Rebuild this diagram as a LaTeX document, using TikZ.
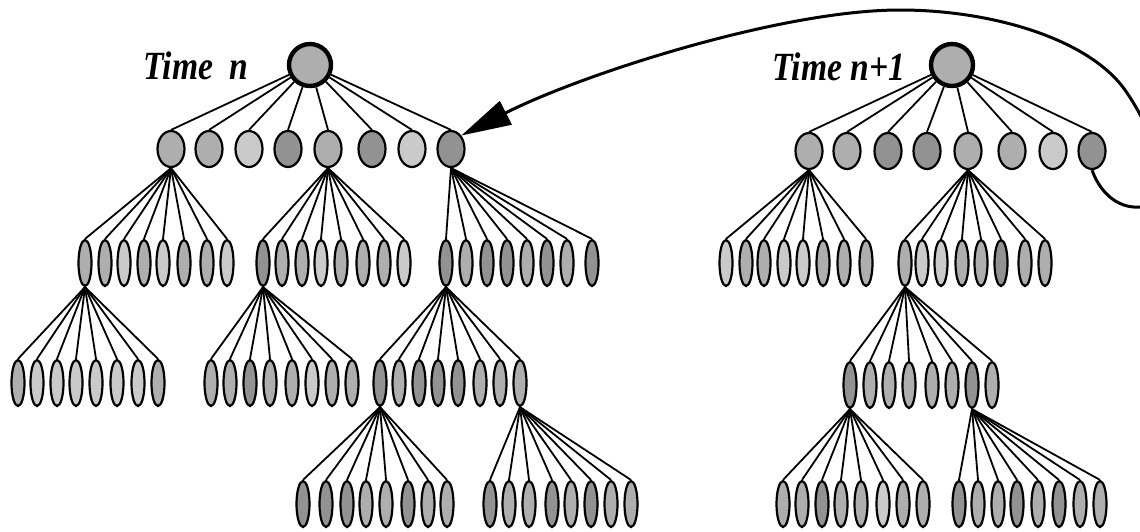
\documentclass[tikz,border=0pt]{standalone}
\usepackage{fontspec}
\usepackage{xcolor}
\usepackage{tikz}
\usetikzlibrary{shapes.geometric, arrows.meta}
\newfontfamily\lblfont[FakeStretch=0.84]{Liberation Serif}
\definecolor{cLight}{HTML}{CACACA}
\definecolor{cMid}{HTML}{AEAEAE}
\definecolor{cDark}{HTML}{929292}
\definecolor{cEdge}{HTML}{000000}

\begin{document}
\begin{tikzpicture}[
  x=0.5pt, y=-0.5pt,
  rootnd/.style={circle, draw=cEdge, line width=2.2pt, fill=cMid, minimum size=21pt, inner sep=0pt},
  topnd/.style={ellipse, draw=cEdge, line width=1.1pt, minimum width=13.5pt, minimum height=18pt, inner sep=0pt},
  leafnd/.style={ellipse, draw=cEdge, line width=1.1pt, minimum width=6.5pt, minimum height=23pt, inner sep=0pt},
  br/.style={line width=0.9pt, draw=cEdge},
  lbl/.style={font=\lblfont\fontsize{20}{24}\selectfont\bfseries\itshape, inner sep=0pt},
  ar/.style={-{Triangle[length=25pt, width=13pt]}, line width=1.5pt, draw=cEdge}
]
\clip (0,0) rectangle (1140,531);

% Time n
\node[lbl, anchor=base west] (lblL) at (143,79) {Time~~n};
\node[rootnd] (lroot) at (310,65) {};
\foreach \x/\c [count=\i] in {171/cMid, 209/cMid, 249/cLight, 288/cDark, 328/cMid, 372/cDark, 412/cLight, 451/cDark}
  \node[topnd, fill=\c] (lt\i) at (\x,149) {};
\foreach \x/\c [count=\i] in {85/cMid, 105/cMid, 124/cLight, 144/cMid, 163/cLight, 184/cMid, 207/cMid, 227/cLight}
  \node[leafnd, fill=\c] (la\i) at (\x,263) {};
\foreach \x/\c [count=\i] in {263/cDark, 282/cMid, 302/cMid, 321/cLight, 341/cMid, 363/cMid, 384/cMid, 404/cLight}
  \node[leafnd, fill=\c] (lb\i) at (\x,263) {};
\foreach \x/\c [count=\i] in {446/cDark, 466/cMid, 487/cDark, 507/cDark, 527/cMid, 547/cDark, 567/cMid, 592/cDark}
  \node[leafnd, fill=\c] (lc\i) at (\x,263) {};
\foreach \x/\c [count=\i] in {18/cMid, 37/cLight, 57/cLight, 76/cLight, 96/cLight, 117/cLight, 138/cLight, 158/cMid}
  \node[leafnd, fill=\c] (laa\i) at (\x,383) {};
\foreach \x/\c [count=\i] in {211/cMid, 230/cMid, 250/cDark, 270/cMid, 292/cMid, 312/cLight, 332/cMid, 352/cMid}
  \node[leafnd, fill=\c] (lbb\i) at (\x,383) {};
\foreach \x/\c [count=\i] in {380/cDark, 399/cMid, 419/cDark, 438/cDark, 458/cDark, 480/cMid, 500/cMid, 520/cMid}
  \node[leafnd, fill=\c] (lcc\i) at (\x,383) {};
\foreach \x/\c [count=\i] in {303/cDark, 326/cDark, 347/cDark, 366/cMid, 386/cMid, 408/cDark, 428/cMid, 447/cMid}
  \node[leafnd, fill=\c] (lcca\i) at (\x,504) {};
\foreach \x/\c [count=\i] in {490/cDark, 509/cMid, 529/cMid, 552/cDark, 571/cMid, 591/cDark, 611/cMid, 631/cMid}
  \node[leafnd, fill=\c] (lccb\i) at (\x,504) {};

\foreach \i in {1,...,8} {
  \draw[br] (lroot) -- (lt\i.north);
  \draw[br] (lt1.south) -- (la\i.north);
  \draw[br] (lt5.south) -- (lb\i.north);
  \draw[br] (lt8.south) -- (lc\i.north);
  \draw[br] (la1.south) -- (laa\i.north);
  \draw[br] (lb1.south) -- (lbb\i.north);
  \draw[br] (lc1.south) -- (lcc\i.north);
  \draw[br] (lcc1.south) -- (lcca\i.north);
  \draw[br] (lcc8.south) -- (lccb\i.north);
}

% Time n+1
\node[lbl, anchor=base west] (lblR) at (772,80) {Time n+1};
\node[rootnd] (rroot) at (952,65) {};
\foreach \x/\c [count=\i] in {809/cMid, 847/cMid, 888/cDark, 927/cDark, 968/cMid, 1012/cMid, 1053/cLight, 1092/cDark}
  \node[topnd, fill=\c] (rt\i) at (\x,151) {};
\foreach \x/\c [count=\i] in {726/cLight, 746/cMid, 764/cMid, 784/cLight, 803/cLight, 823/cMid, 844/cMid, 866/cMid}
  \node[leafnd, fill=\c] (ra\i) at (\x,263) {};
\foreach \x/\c [count=\i] in {905/cMid, 922/cLight, 941/cLight, 962/cMid, 981/cMid, 1001/cDark, 1025/cMid, 1045/cMid}
  \node[leafnd, fill=\c] (rb\i) at (\x,263) {};
\foreach \x/\c [count=\i] in {850/cDark, 870/cMid, 889/cMid, 909/cMid, 932/cMid, 952/cMid, 972/cDark, 992/cMid}
  \node[leafnd, fill=\c] (rbb\i) at (\x,385) {};
\foreach \x/\c [count=\i] in {783/cMid, 802/cMid, 822/cDark, 841/cMid, 861/cMid, 883/cLight, 903/cMid, 923/cMid}
  \node[leafnd, fill=\c] (rbba\i) at (\x,504) {};
\foreach \x/\c [count=\i] in {959/cDark, 978/cMid, 998/cMid, 1017/cDark, 1038/cMid, 1059/cDark, 1080/cMid, 1100/cMid}
  \node[leafnd, fill=\c] (rbbb\i) at (\x,504) {};

\foreach \i in {1,...,8} {
  \draw[br] (rroot) -- (rt\i.north);
  \draw[br] (rt1.south) -- (ra\i.north);
  \draw[br] (rt5.south) -- (rb\i.north);
  \draw[br] (rb1.south) -- (rbb\i.north);
  \draw[br] (rbb1.south) -- (rbba\i.north);
  \draw[br] (rbb7.south) -- (rbbb\i.north);
}

% feedback arrow
\draw[ar] (rt8.south) .. controls (1102,198) and (1125,213) .. (1150,205)
  .. controls (1180,197) and (1150,125) .. (1125,90)
  .. controls (1088,38) and (990,10) .. (900,10)
  .. controls (780,10) and (580,75) .. (lt8.north east);
\end{tikzpicture}
\end{document}
